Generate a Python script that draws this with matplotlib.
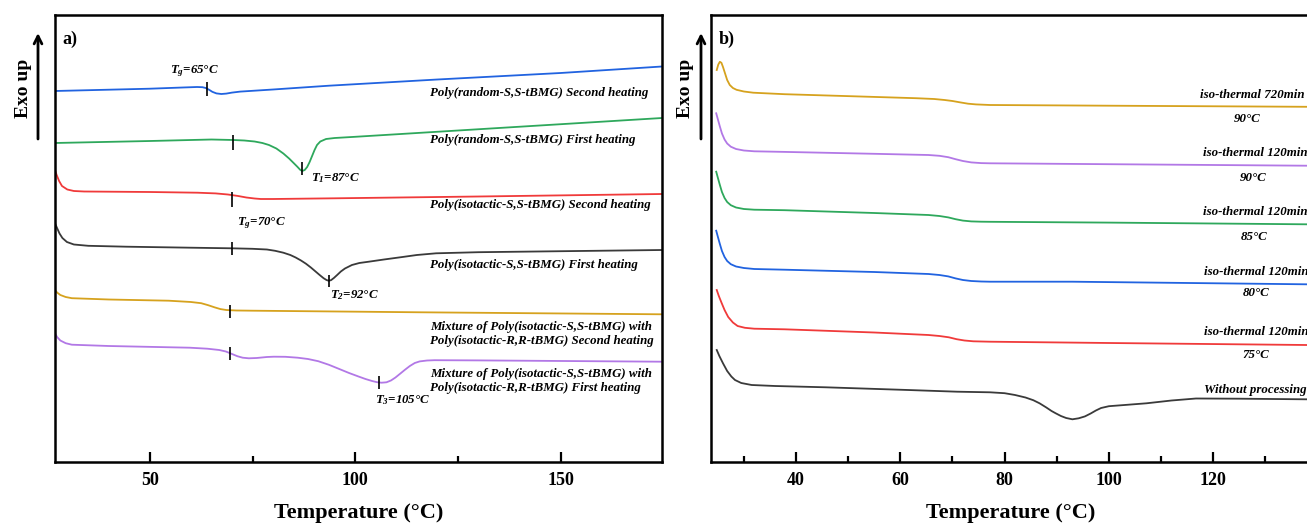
import numpy as np
import matplotlib.pyplot as plt

plt.rcParams['font.family'] = 'Liberation Serif'
plt.rcParams['mathtext.fontset'] = 'custom'
plt.rcParams['mathtext.rm'] = 'Liberation Serif:italic:bold'
plt.rcParams['mathtext.it'] = 'Liberation Serif:italic:bold'

# ---- panel a) data (temperature in C, heat flow in arbitrary offset units)
a_blue_T = [26.9, 40, 50, 58, 61.5, 62.8, 63.6, 64.4, 65.2, 66.2, 67.4, 68.6, 70, 72, 80, 93.6, 120, 150, 174.7]
a_blue_v = [371, 372.3, 373.3, 374.5, 375, 374.8, 374, 372.3, 370.2, 368.6, 368, 368.4, 369.4, 370.4, 372.5, 376.3, 382.5, 389, 395.5]
a_green_T = [26.9, 50, 65, 70.3, 73, 75.5, 77.4, 79, 80.8, 82.5, 83.9, 85, 85.9, 86.6, 87.1, 87.7, 88.3, 88.9,
             89.5, 90.1, 90.7, 91.5, 92.9, 95, 100, 174.7]
a_green_v = [319, 321, 322.5, 322, 321.5, 320.5, 319, 317, 313.5, 308.5, 303.5, 299, 295.3, 292.2, 291, 292, 295, 300,
             306, 312, 317, 320.5, 323, 324, 325.2, 344]
a_red_T = [26.9, 27.3, 27.9, 28.6, 29.9, 31.5, 34, 50, 61.6, 66, 69, 71.5, 73.5, 75.5, 77, 80, 95.1, 130, 174.7]
a_red_v = [292, 287, 281, 276, 272.5, 271, 270.5, 270, 269.3, 268.6, 267.5, 266, 264.5, 263.5, 263, 263, 263.7, 265.5, 268]
a_black_T = [26.9, 27.4, 28.0, 28.7, 29.8, 31.5, 35, 44.3, 60, 69.9, 75, 78.5, 80.5, 82.5, 84.2, 85.5, 86.8, 88, 89.2,
             90.4, 91.4, 92.3, 93, 93.5, 94.1, 94.8, 95.6, 96.5, 97.5, 99.2, 101, 103.3, 107, 111.5, 115, 119.7, 130, 174.7]
a_black_v = [238.7, 234, 228.5, 224, 220, 217.5, 216.2, 215.3, 214.3, 213.7, 213.2, 212.5, 211.2, 209.3, 207, 204.5,
             201.5, 198.3, 194.5, 190.3, 186.8, 183.8, 182, 181.3, 181.8, 184, 187, 190.5, 193.5, 197, 199, 200.3,
             202.5, 205, 207, 208.7, 209.8, 212]
a_gold_T = [26.9, 27.4, 28.2, 29.5, 31, 40, 54.6, 60, 62.5, 64.2, 65.8, 67.2, 68.6, 71, 75.1, 116.1, 174.7]
a_gold_v = [172, 169.5, 167, 165, 163.8, 162.5, 161.3, 160, 158.8, 156.8, 154.6, 152.9, 152, 151.5, 151.3, 149.7, 147.7]
a_purple_T = [26.9, 27.4, 28.2, 29.5, 31, 40, 59.7, 64, 66.9, 68.5, 70, 71.3, 72.6, 74.1, 76, 78.5, 80.2, 83, 86,
              88.5, 91, 93.6, 96, 98.5, 100.8, 102.5, 104.1, 105.3, 106.4, 107.6, 108.7, 109.8, 111, 112.1, 113.3,
              114.5, 115.7, 117.5, 119.3, 130, 174.7]
a_purple_v = [128.7, 125, 121.5, 118.8, 117.3, 116, 114.3, 113.3, 112, 110.5, 108, 105.8, 104.3, 103.7, 104, 105,
              105.3, 105.2, 104.3, 103, 100.8, 97.2, 93.2, 89, 85.5, 83, 81, 79.8, 79.3, 79.7, 81.5, 84.5, 88.5,
              92.2, 96, 99, 100.6, 101.5, 101.8, 101.6, 100.3]

# transition markers
a_mark_T = [63.9, 70.3, 87.1, 70.0, 69.9, 93.5, 69.5, 69.5, 105.9]
a_mark_lo = [366.3, 312, 287, 255.3, 207, 175.3, 143.7, 102, 73]
a_mark_hi = [380.3, 327, 300, 270.3, 220.3, 187, 157, 115.3, 86]

a_note_txt = ['$T_g$=65°C', '$T_1$=87°C', '$T_g$=70°C', '$T_2$=92°C', '$T_3$=105°C']
a_note_T = [54.8, 89.3, 71.1, 93.9, 104.8]
a_note_v = [391, 284, 239.3, 167, 62]

a_labels = ['Poly(random-S,S-tBMG) Second heating',
            'Poly(random-S,S-tBMG) First heating',
            'Poly(isotactic-S,S-tBMG) Second heating',
            'Poly(isotactic-S,S-tBMG) First heating',
            'Mixture of Poly(isotactic-S,S-tBMG) with\nPoly(isotactic-R,R-tBMG) Second heating',
            'Mixture of Poly(isotactic-S,S-tBMG) with\nPoly(isotactic-R,R-tBMG) First heating']
a_label_v = [369, 322, 257, 197, 127.8, 81.2]

# ---- panel b) data
b_gold_T = [24.8, 25.1, 25.4, 25.7, 26.0, 26.4, 26.8, 27.3, 27.9, 28.6, 30, 31.8, 37.8, 53.6, 63, 66.5, 68.5, 70,
            71.5, 73, 74.5, 77.2, 100, 145]
b_gold_v = [392, 397.5, 400.2, 399.2, 395, 388.5, 382, 377, 374, 372.2, 370.5, 369.3, 367.8, 365.3, 363.8, 363, 362,
            361, 359.6, 358.3, 357.6, 357, 356.3, 355]
b_purple_T = [24.7, 25.0, 25.4, 25.8, 26.3, 26.8, 27.5, 28.5, 30, 32, 37.8, 55, 65.4, 67.5, 69.2, 70.6, 72, 73.6,
              75.5, 77.2, 100, 137.8, 145]
b_purple_v = [348.7, 343, 335.5, 328.5, 322.5, 318.5, 315.3, 313, 311.5, 310.7, 310.1, 308.2, 307, 306.2, 304.8,
              302.8, 301, 299.6, 298.9, 298.7, 297.8, 296.3, 296]
b_green_T = [24.7, 25.0, 25.4, 25.8, 26.3, 26.8, 27.5, 28.5, 30, 32, 37.8, 55, 65.4, 67.5, 69.2, 70.6, 72, 73.6,
             75.5, 77.2, 100, 137.8, 145]
b_green_v = [290.3, 284.5, 277, 270, 264, 260, 256.8, 254.5, 253, 252.3, 251.8, 249, 247, 246, 244.6, 242.8, 241.4,
             240.6, 240.3, 240.2, 239.4, 237.7, 237.3]
b_blue_T = [24.7, 25.0, 25.4, 25.8, 26.3, 26.8, 27.5, 28.5, 30, 32, 37.8, 55, 65.4, 67.5, 69.2, 70.6, 72, 73.6,
            75.5, 77.2, 93, 137.8, 145]
b_blue_v = [231.3, 225.5, 218, 211, 205, 201, 197.8, 195.5, 194, 193, 192.3, 190, 188, 187, 185.6, 183.6, 182, 181,
            180.5, 180.3, 180.3, 177.7, 177.3]
b_red_T = [24.8, 25.2, 25.7, 26.3, 27, 27.9, 28.8, 30.2, 32, 37.8, 55, 65.4, 67.5, 69.3, 70.8, 72.3, 74, 77.2, 100,
           137.8, 145]
b_red_v = [172, 166, 159.5, 152, 145, 139.5, 136, 134.2, 133.3, 132.7, 129.5, 127, 126, 124.7, 122.8, 121.5, 120.7,
           120.3, 119, 117, 116.5]
b_black_T = [24.8, 25.3, 26.0, 26.8, 27.6, 28.3, 29.5, 31.5, 36, 45.7, 61.5, 70.9, 77.2, 80, 82, 84, 85.5, 86.7, 88,
             89, 89.8, 90.8, 91.8, 93, 94.2, 95.4, 96.5, 97.5, 98.5, 100, 103, 107.2, 112, 116.7, 125, 137.8, 145]
b_black_v = [112, 106, 98.7, 91, 85.5, 82, 79, 77, 76, 74.7, 72, 70.3, 69.7, 68.8, 67, 64.5, 61.8, 58.7, 54.5, 51,
             48.7, 46, 44, 42.7, 43.7, 45.6, 48.5, 51.5, 54, 55.8, 57, 58.7, 61.5, 63.5, 63.3, 62.7, 62.5]

b_labels = ['iso-thermal 720min', 'iso-thermal 120min', 'iso-thermal 120min',
            'iso-thermal 120min', 'iso-thermal 120min', 'Without processing']
b_label_T = [117.5, 118.1, 118.1, 118.2, 118.2, 118.3]
b_label_v = [367, 309.3, 249.7, 190.3, 130.3, 72]
b_temp_txt = ['90°C', '90°C', '85°C', '80°C', '75°C']
b_temp_T = [126.5, 127.6, 127.8, 128.2, 128.2]
b_temp_v = [343, 283.7, 225.3, 168.7, 107]

c_blue = '#2163e0'
c_green = '#2ea85c'
c_red = '#f03a3a'
c_black = '#3a3a3a'
c_gold = '#d6a21e'
c_purple = '#b278e6'

W, H = 1307, 527
fig = plt.figure(figsize=(W / 100, H / 100), dpi=100)
ax1 = fig.add_axes([55 / W, 65 / H, 607 / W, 447 / H])
ax2 = fig.add_axes([711 / W, 65 / H, 632.6 / W, 447 / H])

lw = 1.3
ax1.plot(a_blue_T, a_blue_v, color=c_blue, lw=lw)
ax1.plot(a_green_T, a_green_v, color=c_green, lw=lw)
ax1.plot(a_red_T, a_red_v, color=c_red, lw=lw)
ax1.plot(a_black_T, a_black_v, color=c_black, lw=lw)
ax1.plot(a_gold_T, a_gold_v, color=c_gold, lw=lw)
ax1.plot(a_purple_T, a_purple_v, color=c_purple, lw=lw)
ax1.vlines(a_mark_T, a_mark_lo, a_mark_hi, color='k', lw=1.2)

fs = 9.3
for t, x, y in zip(a_note_txt, a_note_T, a_note_v):
    ax1.text(x, y, t, fontsize=fs, style='italic', weight='bold', va='center', ha='left')
for t, y in zip(a_labels, a_label_v):
    ax1.text(118.2, y, t, fontsize=fs, style='italic', weight='bold', va='center', ha='left',
             linespacing=1.25)

ax2.plot(b_gold_T, b_gold_v, color=c_gold, lw=lw)
ax2.plot(b_purple_T, b_purple_v, color=c_purple, lw=lw)
ax2.plot(b_green_T, b_green_v, color=c_green, lw=lw)
ax2.plot(b_blue_T, b_blue_v, color=c_blue, lw=lw)
ax2.plot(b_red_T, b_red_v, color=c_red, lw=lw)
ax2.plot(b_black_T, b_black_v, color=c_black, lw=lw)
for t, x, y in zip(b_labels, b_label_T, b_label_v):
    ax2.text(x, y, t, fontsize=fs, style='italic', weight='bold', va='center', ha='left')
for t, x, y in zip(b_temp_txt, b_temp_T, b_temp_v):
    ax2.text(x, y, t, fontsize=fs, style='italic', weight='bold', va='center', ha='center')

ax1.set_xlim(26.9, 174.7)
ax2.set_xlim(23.7, 145)
ax1.set_xticks([50, 100, 150])
ax1.set_xticks([75, 125], minor=True)
ax2.set_xticks([40, 60, 80, 100, 120])
ax2.set_xticks([30, 50, 70, 90, 110, 130], minor=True)

for ax, tag, lx in [(ax1, 'a)', 0.5), (ax2, 'b)', 0.473)]:
    ax.set_ylim(0, 447)
    ax.set_yticks([])
    for s in ax.spines.values():
        s.set_linewidth(1.8)
    ax.tick_params(axis='x', which='major', direction='in', length=7, width=1.6, pad=7)
    ax.tick_params(axis='x', which='minor', direction='in', length=4, width=1.6)
    for lab in ax.get_xticklabels():
        lab.set_fontsize(13)
        lab.set_fontweight('bold')
    ax.set_xlabel('Temperature (°C)', fontsize=16, fontweight='bold')
    ax.xaxis.set_label_coords(lx, -0.092)
    ax.text(0.012, 0.945, tag, transform=ax.transAxes, fontsize=13, fontweight='bold',
            va='center', ha='left')

# "Exo up" arrows
for tx, axx in [(24, 38), (686, 701)]:
    fig.text(tx / W, 1 - 88 / H, 'Exo up', rotation=90, fontsize=14, fontweight='bold',
             ha='center', va='center')
    ax1.annotate('', xy=(axx / W, 1 - 33 / H), xytext=(axx / W, 1 - 139 / H),
                 xycoords='figure fraction', textcoords='figure fraction',
                 arrowprops=dict(arrowstyle='->', lw=2, color='k', mutation_scale=14,
                                 shrinkA=0, shrinkB=0))

fig.savefig('out.png', dpi=100)
